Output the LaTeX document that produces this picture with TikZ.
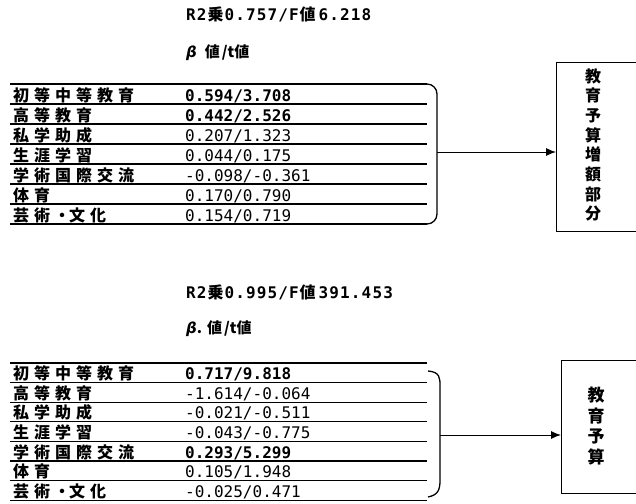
\documentclass[tikz,border=0pt]{standalone}
\usepackage{fontspec}
\usetikzlibrary{arrows.meta}
\newfontfamily\jp{Noto Sans CJK JP}
\newfontfamily\mn{DejaVu Sans Mono}
\newfontfamily\gr{DejaVu Sans}
\newcommand\spaced[1]{\expandafter\spacedA#1\relax}
\def\spacedA#1{\ifx\relax#1\else\ifx・#1\makebox[14pt][c]{#1}\else\makebox[21pt][l]{#1}\fi\expandafter\spacedA\fi}
\newcommand\kj[1]{\hspace{1pt}{\jp\bfseries #1}\hspace{1pt}}
\tikzset{
  rule/.style={line width=1.3pt},
  brk/.style={line width=1.3pt},
  arr/.style={line width=1pt,-{Latex[length=10pt,width=8pt]}},
  outbox/.style={draw,line width=1pt,anchor=north west,inner sep=0pt},
  lab/.style={anchor=base west,inner sep=0pt,font=\jp\bfseries\fontsize{16}{16}\selectfont},
  val/.style={anchor=base west,inner sep=0pt,font=\mn\fontsize{16}{16}\selectfont},
  ttl/.style={anchor=base west,inner sep=0pt,font=\mn\bfseries\fontsize{16}{16}\selectfont\addfontfeature{LetterSpace=7}},
  beta/.style={anchor=base west,inner sep=0pt,font=\jp\bfseries\fontsize{15}{15}\selectfont},
}
\begin{document}
\begin{tikzpicture}[x=1pt,y=-1pt]
\clip (0,0) rectangle (636,503);
\fill[white] (0,0) rectangle (636,503);
% ---------- top panel ----------
\node[ttl] (t1) at (186,21) {R2\kj{乗}0.757/F\kj{値}\hspace{2pt}6.218};
\node[beta] (bt1) at (186,57) {{\gr\bfseries\itshape β}\hspace{8pt}値\hspace{2pt}/t値};
\foreach \k in {0,...,7} \draw[rule] (10,84+20*\k) -- (427,84+20*\k);
\foreach \lab/\b/\t/\w [count=\i from 1] in {
  初等中等教育/0.594/3.708/\bfseries,
  高等教育/0.442/2.526/\bfseries,
  私学助成/0.207/1.323/\mdseries,
  生涯学習/0.044/0.175/\mdseries,
  学術国際交流/-0.098/-0.361/\mdseries,
  体育/0.170/0.790/\mdseries,
  芸術・文化/0.154/0.719/\mdseries}{
  \node[lab] (la\i) at (13,84+20*\i-3) {\spaced{\lab}};
  \node[val] (va\i) at (185,84+20*\i-3) {\w\b/\t};
}
\draw[brk,rounded corners=10pt] (415,84) -- (437,84) -- (437,224) -- (415,224);
\coordinate (br1) at (437,152);
\node[outbox,minimum width=110pt,minimum height=169pt] (box1) at (556,62) {};
\node[inner sep=0pt,align=center,font=\jp\bfseries\fontsize{16}{19.7}\selectfont] (o1) at (593,145)
  {教\\育\\予\\算\\増\\額\\部\\分};
\draw[arr] (br1) -- (br1 -| box1.west);
% ---------- bottom panel ----------
\node[ttl] (t2) at (186,298) {R2\kj{乗}0.995/F\kj{値}\hspace{2pt}391.453};
\node[beta] (bt2) at (186,333) {{\gr\bfseries\itshape β}.\hspace{5pt}値\hspace{2pt}/t値};
\foreach \k in {0,...,7} \draw[rule] (10,363+19.6*\k) -- (427,363+19.6*\k);
\foreach \lab/\b/\t/\w [count=\i from 1] in {
  初等中等教育/0.717/9.818/\bfseries,
  高等教育/-1.614/-0.064/\mdseries,
  私学助成/-0.021/-0.511/\mdseries,
  生涯学習/-0.043/-0.775/\mdseries,
  学術国際交流/0.293/5.299/\bfseries,
  体育/0.105/1.948/\mdseries,
  芸術・文化/-0.025/0.471/\mdseries}{
  \node[lab] (lb\i) at (13,363+19.6*\i-3) {\spaced{\lab}};
  \node[val] (vb\i) at (185,363+19.6*\i-3) {\w\b/\t};
}
\draw[brk] (428,371) .. controls (440,372) and (440,378) .. (440,386) -- (440,480) .. controls (440,490) and (438,495) .. (428,497);
\coordinate (br2) at (440,435);
\node[outbox,minimum width=110pt,minimum height=133pt] (box2) at (561,360) {};
\node[inner sep=0pt,align=center,font=\jp\bfseries\fontsize{17}{20.7}\selectfont] (o2) at (596,426)
  {教\\育\\予\\算};
\draw[arr] (br2) -- (br2 -| box2.west);
\end{tikzpicture}
\end{document}
